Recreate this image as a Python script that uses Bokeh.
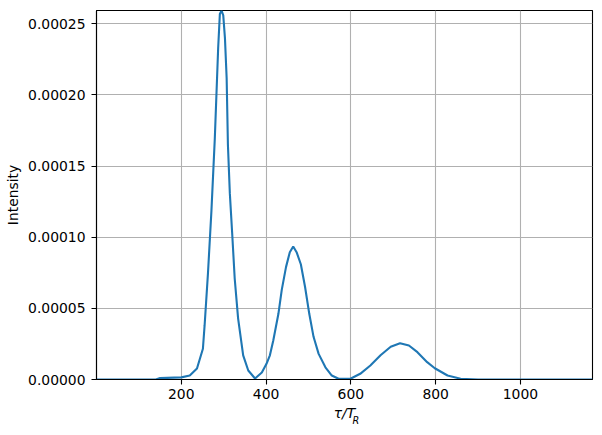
from bokeh.plotting import figure
from bokeh.models import Range1d, FixedTicker, PrintfTickFormatter, LinearAxis
from bokeh.embed import file_html
from bokeh.resources import INLINE

# data
tau = [0, 140, 150, 200, 220, 237, 251, 255, 263, 271, 279, 287, 291, 295, 299,
       303, 307, 310, 314.5, 320, 326, 334, 346, 358, 374, 390, 401, 409, 417,
       429, 437, 447, 456, 464, 472, 482, 492, 502, 512, 524, 540, 555, 571,
       599, 622, 646, 670, 694, 716, 737, 757, 780, 798, 828, 859, 900, 1170]
intensity = [0, 0, 1.0e-6, 1.5e-6, 2.8e-6, 7.7e-6, 2.16e-5, 3.8e-5, 7.5e-5,
             1.18e-4, 1.69e-4, 2.33e-4, 2.57e-4, 2.594e-4, 2.56e-4, 2.40e-4,
             2.12e-4, 1.65e-4, 1.31e-4, 1.03e-4, 7.1e-5, 4.3e-5, 1.7e-5, 6.3e-6,
             7e-7, 4.9e-6, 1.1e-5, 1.7e-5, 2.74e-5, 4.6e-5, 6.3e-5, 7.9e-5,
             8.95e-5, 9.35e-5, 8.95e-5, 8.1e-5, 6.5e-5, 4.6e-5, 3.0e-5, 1.8e-5,
             8.6e-6, 2.8e-6, 5e-7, 5e-7, 4e-6, 9.8e-6, 1.7e-5, 2.3e-5, 2.55e-5,
             2.39e-5, 1.92e-5, 1.22e-5, 7.9e-6, 2.8e-6, 5e-7, 0, 0]
x_ticks = [200, 400, 600, 800, 1000]
y_ticks = [0, 0.00005, 0.00010, 0.00015, 0.00020, 0.00025]
x_lim = (0, 1170)
y_lim = (0, 0.0002594)
x_label_main = "τ/T"
x_label_sub = "R"
sub_pos = 612  # where the subscript sits along the x axis

FONT = "DejaVu Sans"
FS = "13.9px"

p = figure(width=602, height=435, output_backend="svg", toolbar_location=None,
           x_range=Range1d(*x_lim), y_range=Range1d(*y_lim),
           min_border_left=96, min_border_right=10, min_border_top=10,
           min_border_bottom=56)
p.background_fill_color = "white"
p.border_fill_color = "white"
p.outline_line_color = "black"
p.outline_line_width = 1.1

p.line(tau, intensity, line_color="#1f77b4", line_width=2.1)

p.xaxis.ticker = FixedTicker(ticks=x_ticks)
p.yaxis.ticker = FixedTicker(ticks=y_ticks)
p.yaxis.formatter = PrintfTickFormatter(format="%.5f")

for ax in (p.xaxis[0], p.yaxis[0]):
    ax.major_label_text_font = FONT
    ax.major_label_text_font_size = FS
    ax.major_label_text_color = "black"
    ax.axis_line_color = "black"
    ax.axis_line_width = 1.1
    ax.major_tick_line_color = "black"
    ax.major_tick_line_width = 1.1
    ax.major_tick_out = 5
    ax.major_tick_in = 0
    ax.minor_tick_out = 0
    ax.minor_tick_in = 0
    ax.axis_label_text_font = FONT
    ax.axis_label_text_font_size = FS
    ax.axis_label_text_font_style = "normal"
    ax.axis_label_text_color = "black"

p.yaxis.axis_label = "Intensity"
p.yaxis.major_label_standoff = 6
p.yaxis.axis_label_standoff = 4
p.xaxis.major_label_standoff = 4
p.xaxis.axis_label = x_label_main
p.xaxis.axis_label_text_font_style = "italic"
p.xaxis.axis_label_standoff = 3

# subscript of the x label, drawn as a tick label of an extra bare axis
sub_axis = LinearAxis(ticker=FixedTicker(ticks=[sub_pos]),
                      major_label_overrides={sub_pos: x_label_sub},
                      axis_line_color=None, major_tick_line_color=None,
                      minor_tick_line_color=None,
                      major_tick_out=0, major_tick_in=0,
                      major_label_standoff=-9,
                      major_label_text_font=FONT,
                      major_label_text_font_size="9.7px",
                      major_label_text_font_style="italic",
                      major_label_text_color="black")
p.add_layout(sub_axis, "below")

for g in (p.xgrid[0], p.ygrid[0]):
    g.grid_line_color = "#b0b0b0"
    g.grid_line_width = 1.1

open("out.html", "w").write(file_html(p, INLINE))
